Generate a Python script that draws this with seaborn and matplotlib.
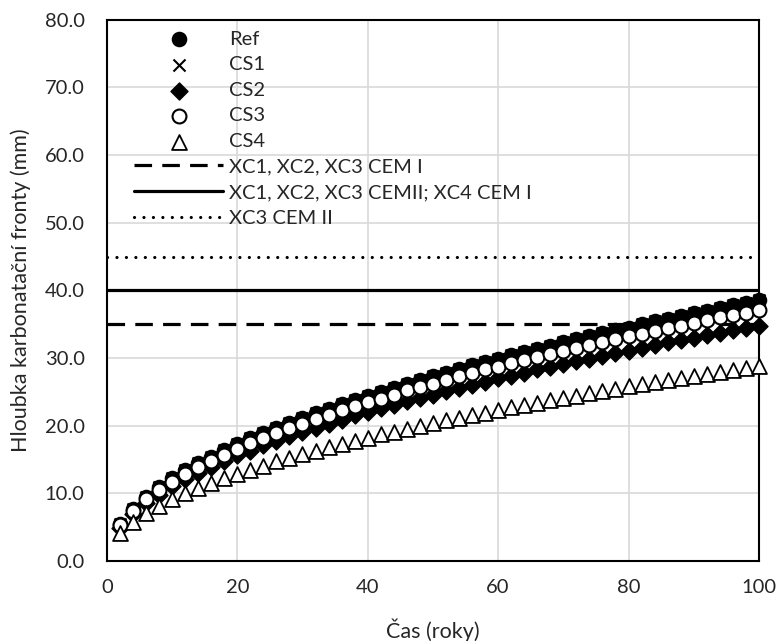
import matplotlib
matplotlib.use("Agg")
import matplotlib.pyplot as plt
import numpy as np
import pandas as pd
import seaborn as sns

# time axis (years)
years = list(range(2, 101, 2))

# carbonation depth (mm)
ref = [5.5, 7.7, 9.5, 10.9, 12.2, 13.4, 14.4, 15.4, 16.4, 17.3,
       18.1, 18.9, 19.7, 20.4, 21.1, 21.8, 22.5, 23.2, 23.8, 24.4,
       25.0, 25.6, 26.2, 26.7, 27.3, 27.8, 28.4, 28.9, 29.4, 29.9,
       30.4, 30.9, 31.4, 31.8, 32.3, 32.8, 33.2, 33.7, 34.1, 34.5,
       35.0, 35.4, 35.8, 36.2, 36.6, 37.0, 37.4, 37.8, 38.2, 38.6]
cs1 = list(ref)
cs2 = [4.9, 7.0, 8.5, 9.8, 11.0, 12.1, 13.0, 13.9, 14.8, 15.6,
       16.3, 17.1, 17.7, 18.4, 19.1, 19.7, 20.3, 20.9, 21.5, 22.0,
       22.6, 23.1, 23.6, 24.1, 24.6, 25.1, 25.6, 26.0, 26.5, 27.0,
       27.4, 27.8, 28.3, 28.7, 29.1, 29.5, 29.9, 30.3, 30.7, 31.1,
       31.5, 31.9, 32.3, 32.7, 33.0, 33.4, 33.7, 34.1, 34.5, 34.8]
cs3 = [5.3, 7.4, 9.1, 10.5, 11.7, 12.9, 13.9, 14.8, 15.7, 16.6,
       17.4, 18.2, 18.9, 19.6, 20.3, 21.0, 21.6, 22.3, 22.9, 23.5,
       24.0, 24.6, 25.2, 25.7, 26.2, 26.8, 27.3, 27.8, 28.3, 28.7,
       29.2, 29.7, 30.1, 30.6, 31.0, 31.5, 31.9, 32.3, 32.8, 33.2,
       33.6, 34.0, 34.4, 34.8, 35.2, 35.6, 36.0, 36.4, 36.7, 37.1]
cs4 = [4.1, 5.8, 7.1, 8.1, 9.1, 10.0, 10.8, 11.5, 12.2, 12.9,
       13.5, 14.1, 14.7, 15.2, 15.8, 16.3, 16.8, 17.3, 17.8, 18.2,
       18.7, 19.1, 19.5, 20.0, 20.4, 20.8, 21.2, 21.6, 21.9, 22.3,
       22.7, 23.0, 23.4, 23.8, 24.1, 24.4, 24.8, 25.1, 25.4, 25.8,
       26.1, 26.4, 26.7, 27.0, 27.3, 27.6, 27.9, 28.2, 28.5, 28.8]

# limit depths (mm)
limit_labels = ["XC1, XC2, XC3 CEM I",
                "XC1, XC2, XC3 CEMII; XC4 CEM I",
                "XC3 CEM II"]
limit_values = [35.0, 40.0, 45.0]

sns.set_theme(style="white")
plt.rcParams["font.family"] = ["Lato", "DejaVu Sans"]

fig = plt.figure(figsize=(7.8, 6.41), dpi=100)
ax = fig.add_axes([0.137, 0.125, 0.836, 0.844])

df = pd.DataFrame({"t": years, "Ref": ref, "CS1": cs1, "CS2": cs2,
                   "CS3": cs3, "CS4": cs4})

styles = {
    "Ref": dict(marker="o", s=100, color="black", edgecolor="black", linewidth=1.2),
    "CS1": dict(marker="x", s=75, color="black", linewidth=1.5),
    "CS2": dict(marker="D", s=75, color="black", edgecolor="black", linewidth=1.0),
    "CS3": dict(marker="o", s=100, facecolor="white", edgecolor="black", linewidth=1.5),
    "CS4": dict(marker="^", s=115, facecolor="white", edgecolor="black", linewidth=1.3),
}
for i, (name, kw) in enumerate(styles.items()):
    sns.scatterplot(data=df, x="t", y=name, ax=ax, label=name, zorder=3 + i,
                    clip_on=False, **kw)

line_styles = [
    dict(linestyle=(0, (5.5, 3.2)), linewidth=2.3),
    dict(linestyle="-", linewidth=2.3),
    dict(linestyle=(0, (0.01, 2.95)), linewidth=2.3, dash_capstyle="round"),
]
for lab, val, kw in zip(limit_labels, limit_values, line_styles):
    ax.axhline(val, color="black", label=lab, zorder=2, **kw)

ax.set_xlim(0, 100)
ax.set_ylim(0, 80)
ax.set_xticks(range(0, 101, 20))
ax.set_yticks(range(0, 81, 10))
ax.set_yticklabels([f"{v:.1f}" for v in range(0, 81, 10)])
ax.tick_params(axis="y", labelsize=14.5, length=0, pad=16)
ax.tick_params(axis="x", labelsize=14.5, length=0, pad=13)
ax.grid(True, color="#d9d9d9", linewidth=1.2)
ax.set_axisbelow(True)
for sp in ax.spines.values():
    sp.set_color("black")
    sp.set_linewidth(1.5)

ax.set_xlabel("Čas (roky)", fontsize=15.5, labelpad=16)
ax.set_ylabel("Hloubka karbonatační fronty (mm)", fontsize=15.5, labelpad=10)

leg = ax.legend(loc="upper left", bbox_to_anchor=(0.03, 0.995), frameon=False,
                fontsize=14.5, handlelength=4.4, handletextpad=0.3,
                labelspacing=0.42, borderaxespad=0.0)

fig.savefig("out.png", dpi=100)
